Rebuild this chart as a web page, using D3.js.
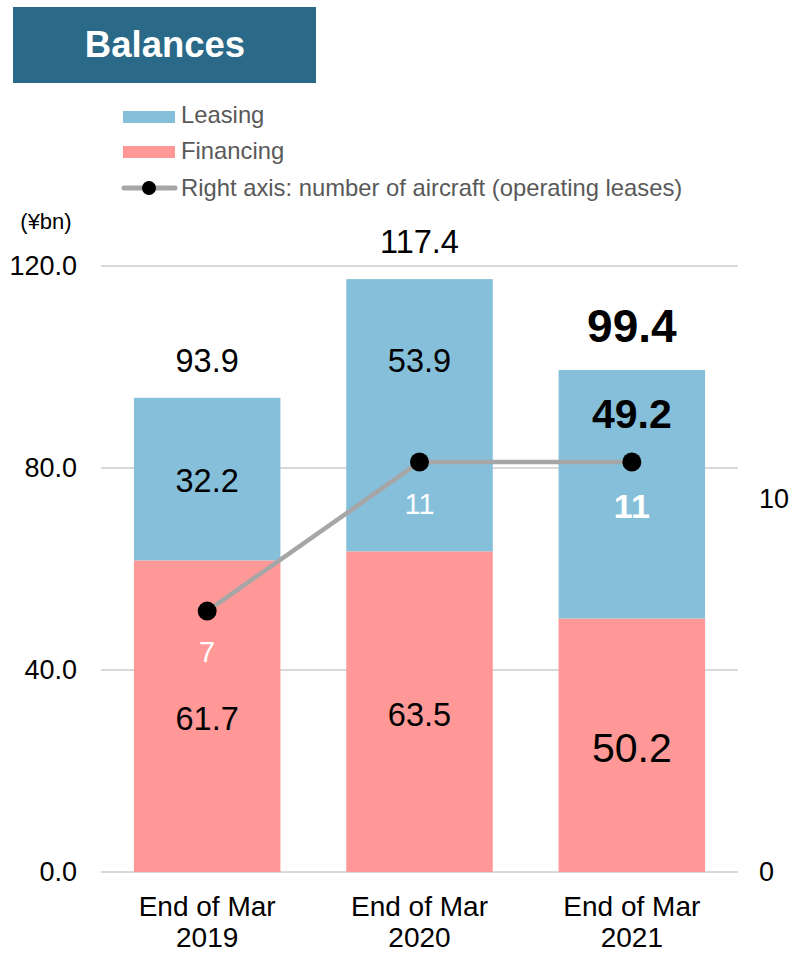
<!DOCTYPE html>
<html>
<head>
<meta charset="utf-8">
<script src="https://cdn.jsdelivr.net/npm/d3@7"></script>
<style>
  html, body { margin: 0; padding: 0; background: #fff; }
  svg { display: block; font-family: "Liberation Sans", Arial, sans-serif; }
</style>
</head>
<body>
<svg id="chart" width="792" height="953"></svg>
<script>
// Balances by fiscal year end (¥bn) and aircraft count on operating leases
const categories = ["End of Mar 2019", "End of Mar 2020", "End of Mar 2021"];
const financing = [61.7, 63.5, 50.2];
const leasing = [32.2, 53.9, 49.2];
const totals = [93.9, 117.4, 99.4];
const aircraft = [7, 11, 11];
const leftTicks = [0, 40, 80, 120];
const rightTicks = [0, 10];

const FONT = "Liberation Sans, Arial, sans-serif";
const svg = d3.select("#chart");
const plot = { left: 101, right: 738, top: 266, bottom: 872 };

const x = d3.scaleBand().domain(categories).range([plot.left, plot.right]).paddingInner(0.31).paddingOuter(0.155);
const y = d3.scaleLinear().domain([0, 120]).range([plot.bottom, plot.top]);
const y2 = d3.scaleLinear().domain([0, 16.26]).range([plot.bottom, plot.top]);

// Title banner
svg.append("rect").attr("x", 13).attr("y", 7).attr("width", 303).attr("height", 76).attr("fill", "#2a6a88");
svg.append("text").attr("x", 165).attr("y", 57).attr("text-anchor", "middle")
  .attr("fill", "#fff").attr("font-weight", "bold").attr("font-size", 36.5).text("Balances");

// Legend
const legend = svg.append("g").attr("fill", "#595959").attr("font-size", 23.8);
legend.append("rect").attr("x", 123).attr("y", 111).attr("width", 52).attr("height", 12).attr("fill", "#85bfda");
legend.append("text").attr("x", 181).attr("y", 123).text("Leasing");
legend.append("rect").attr("x", 123).attr("y", 146).attr("width", 52).attr("height", 12).attr("fill", "#ff9896");
legend.append("text").attr("x", 181).attr("y", 158.5).text("Financing");
legend.append("line").attr("x1", 124).attr("x2", 175).attr("y1", 188).attr("y2", 188)
  .attr("stroke", "#a6a6a6").attr("stroke-width", 5).attr("stroke-linecap", "round");
legend.append("circle").attr("cx", 149).attr("cy", 188).attr("r", 7).attr("fill", "#000");
legend.append("text").attr("x", 181).attr("y", 196).text("Right axis: number of aircraft (operating leases)");

// Unit label
svg.append("text").attr("x", 46).attr("y", 229).attr("text-anchor", "middle").attr("font-size", 22).attr("fill", "#000").text("(¥bn)");

// Gridlines
svg.append("g").selectAll("line").data(leftTicks).join("line")
  .attr("x1", plot.left).attr("x2", plot.right)
  .attr("y1", d => y(d)).attr("y2", d => y(d))
  .attr("stroke", "#d9d9d9").attr("stroke-width", 2);

// Left axis
const leftAxis = svg.append("g").attr("transform", `translate(77,0)`)
  .call(d3.axisLeft(y).tickValues(leftTicks).tickFormat(d3.format(".1f")).tickSize(0).tickPadding(0));
leftAxis.select(".domain").remove();
leftAxis.selectAll("text").attr("font-size", 27).attr("fill", "#000").attr("font-family", FONT);

// Right axis
const rightAxis = svg.append("g").attr("transform", `translate(759,0)`)
  .call(d3.axisRight(y2).tickValues(rightTicks).tickFormat(d3.format("d")).tickSize(0).tickPadding(0));
rightAxis.select(".domain").remove();
rightAxis.selectAll("text").attr("font-size", 27).attr("fill", "#000").attr("font-family", FONT);

// Stacked bars
const bars = svg.append("g");
bars.selectAll(".fin").data(categories).join("rect")
  .attr("x", d => x(d)).attr("width", x.bandwidth())
  .attr("y", (d, i) => y(financing[i])).attr("height", (d, i) => y(0) - y(financing[i]))
  .attr("fill", "#ff9896");
bars.selectAll(".lea").data(categories).join("rect")
  .attr("x", d => x(d)).attr("width", x.bandwidth())
  .attr("y", (d, i) => y(financing[i] + leasing[i])).attr("height", (d, i) => y(financing[i]) - y(financing[i] + leasing[i]))
  .attr("fill", "#85bfda");

// X axis labels (two lines)
const xLab = svg.append("g").attr("font-size", 28).attr("fill", "#000");
categories.forEach(c => {
  const cx = x(c) + x.bandwidth() / 2;
  const t = xLab.append("text").attr("text-anchor", "middle");
  t.append("tspan").attr("x", cx).attr("y", 916).text(c.slice(0, 10));
  t.append("tspan").attr("x", cx).attr("y", 947).text(c.slice(11));
});

// Value labels
const cxOf = i => x(categories[i]) + x.bandwidth() / 2;
const fmt = d3.format(".1f");
const labelSpecs = [
  { i: 0, text: fmt(totals[0]), yv: 372, size: 32.5, bold: false },
  { i: 1, text: fmt(totals[1]), yv: 253, size: 32.5, bold: false },
  { i: 2, text: fmt(totals[2]), yv: 342, size: 46, bold: true },
  { i: 0, text: fmt(leasing[0]), yv: 492, size: 32.5, bold: false },
  { i: 1, text: fmt(leasing[1]), yv: 372, size: 32.5, bold: false },
  { i: 2, text: fmt(leasing[2]), yv: 428, size: 41, bold: true },
  { i: 0, text: fmt(financing[0]), yv: 730, size: 32.5, bold: false },
  { i: 1, text: fmt(financing[1]), yv: 726, size: 32.5, bold: false },
  { i: 2, text: fmt(financing[2]), yv: 762, size: 41, bold: false }
];
svg.append("g").selectAll("text").data(labelSpecs).join("text")
  .attr("x", d => cxOf(d.i)).attr("y", d => d.yv).attr("text-anchor", "middle")
  .attr("font-size", d => d.size).attr("font-weight", d => d.bold ? "bold" : "normal")
  .attr("fill", "#000").text(d => d.text);

// Aircraft line
const line = d3.line().x((d, i) => cxOf(i)).y(d => y2(d));
svg.append("path").datum(aircraft).attr("d", line)
  .attr("fill", "none").attr("stroke", "#a6a6a6").attr("stroke-width", 4.5);
svg.append("g").selectAll("circle").data(aircraft).join("circle")
  .attr("cx", (d, i) => cxOf(i)).attr("cy", d => y2(d)).attr("r", 9.5).attr("fill", "#000");

// Aircraft count labels
const acSpecs = [{ size: 29, bold: false, dy: 51 }, { size: 29, bold: false, dy: 52 }, { size: 34, bold: true, dy: 56 }];
svg.append("g").selectAll("text").data(aircraft).join("text")
  .attr("x", (d, i) => cxOf(i)).attr("y", (d, i) => y2(d) + acSpecs[i].dy)
  .attr("text-anchor", "middle").attr("fill", "#fff")
  .attr("font-size", (d, i) => acSpecs[i].size).attr("font-weight", (d, i) => acSpecs[i].bold ? "bold" : "normal")
  .text(d => d);
</script>
</body>
</html>
